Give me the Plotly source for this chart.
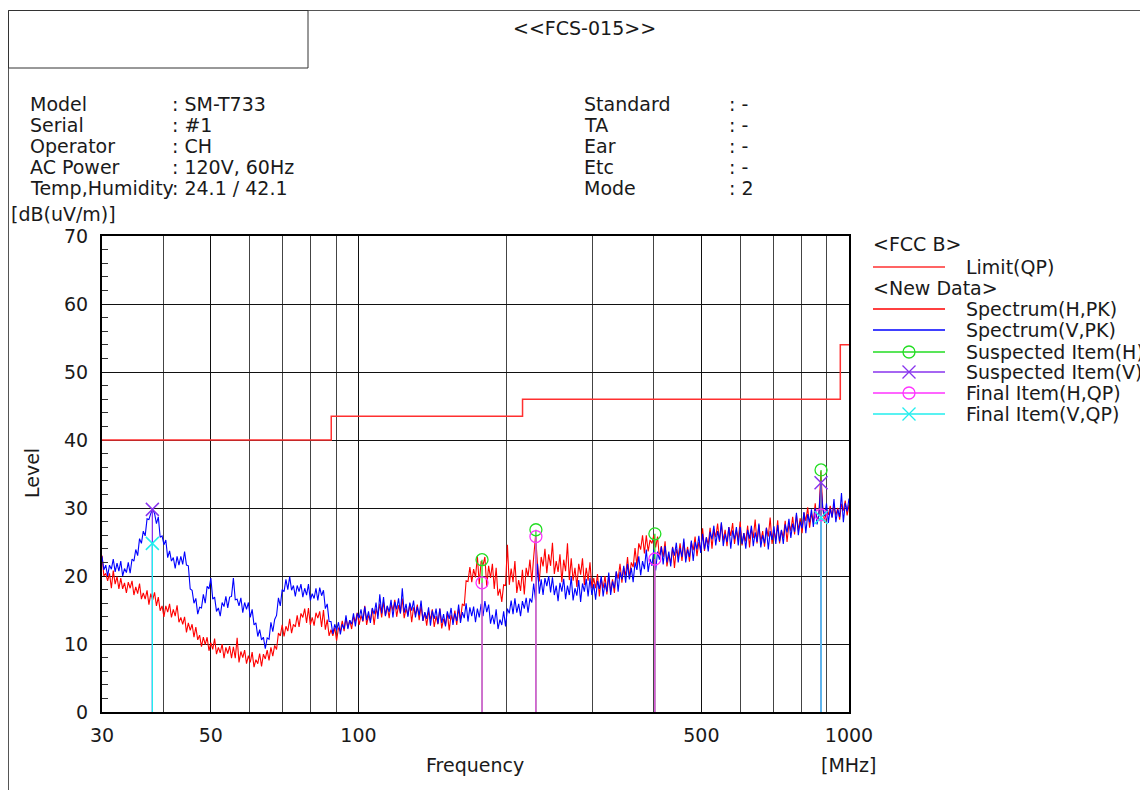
import numpy as np
import plotly.graph_objects as go

# ---------------- data ----------------
spec_v = [
    22.9, 20.9, 21.6, 20.0, 21.6, 21.0, 22.5, 20.6, 21.9, 20.7, 22.2, 20.0, 21.1, 20.5, 22.0, 20.4, 22.5, 22.2, 23.9, 23.0,
    25.5, 24.8, 26.6, 25.9, 28.4, 28.3, 29.2, 29.8, 29.2, 27.7, 28.7, 25.7, 25.9, 24.6, 25.3, 22.7, 23.7, 22.2, 22.7, 21.1,
    22.9, 21.6, 22.9, 21.7, 23.6, 21.6, 21.5, 18.1, 17.9, 16.0, 16.7, 14.4, 15.4, 15.3, 17.3, 16.0, 18.5, 18.1, 19.7, 16.6,
    16.9, 14.8, 15.3, 14.1, 16.1, 15.5, 17.0, 15.3, 16.9, 17.0, 19.7, 16.5, 16.6, 15.6, 16.8, 14.6, 16.1, 15.1, 16.1, 13.9,
    15.1, 12.8, 13.1, 11.1, 12.1, 10.6, 11.0, 9.3, 10.9, 10.7, 13.2, 11.8, 13.6, 14.2, 16.8, 15.6, 18.0, 17.7, 19.5, 18.0,
    19.9, 17.9, 18.6, 17.0, 18.6, 17.7, 18.8, 16.9, 18.2, 17.2, 18.8, 16.4, 17.4, 16.7, 18.2, 16.4, 18.3, 17.1, 17.9, 15.2,
    15.9, 13.3, 13.3, 11.5, 12.9, 12.0, 13.2, 11.4, 12.9, 12.2, 14.2, 12.2, 13.5, 12.9, 14.5, 12.6, 14.5, 13.8, 15.1, 13.4,
    15.5, 13.5, 14.8, 13.1, 15.3, 14.4, 16.1, 13.7, 17.3, 14.5, 16.9, 14.1, 15.6, 14.7, 16.5, 13.9, 16.2, 15.1, 16.7, 14.5,
    18.2, 14.6, 15.9, 14.0, 16.1, 14.9, 16.4, 13.9, 15.5, 14.2, 16.4, 13.4, 14.7, 13.7, 15.4, 12.7, 14.9, 13.7, 15.2, 13.0,
    15.2, 13.1, 14.4, 12.6, 14.8, 13.7, 15.3, 12.8, 14.5, 13.4, 15.8, 13.1, 14.7, 13.8, 16.0, 13.3, 15.4, 14.1, 15.5, 13.2,
    15.2, 13.9, 15.9, 14.1, 16.3, 14.7, 15.8, 13.0, 14.3, 12.9, 15.1, 12.2, 13.6, 12.8, 14.8, 12.6, 15.2, 14.5, 16.4, 14.4,
    16.7, 14.6, 15.9, 14.1, 16.3, 15.2, 16.8, 14.6, 16.7, 16.1, 18.9, 16.4, 21.8, 17.4, 19.5, 17.2, 19.7, 18.5, 20.0, 17.6,
    19.8, 17.2, 18.6, 16.3, 19.0, 17.7, 19.6, 16.6, 18.6, 17.2, 19.9, 16.4, 18.2, 17.1, 19.4, 16.2, 18.9, 17.7, 19.6, 17.0,
    19.7, 17.2, 18.8, 16.5, 19.3, 18.1, 20.0, 17.0, 19.0, 17.7, 20.5, 17.2, 19.2, 18.2, 20.7, 17.7, 20.6, 19.5, 21.5, 19.0,
    21.8, 19.5, 21.2, 19.1, 22.0, 20.9, 22.9, 20.1, 22.2, 21.0, 23.9, 20.6, 22.5, 21.5, 23.9, 20.8, 23.6, 22.4, 24.3, 21.7,
    24.4, 22.0, 23.6, 21.4, 24.2, 23.0, 24.9, 22.0, 24.1, 22.8, 25.5, 22.0, 23.9, 22.8, 25.2, 22.2, 25.0, 23.9, 25.9, 23.4,
    26.2, 23.9, 25.7, 23.6, 26.5, 25.4, 27.4, 24.5, 26.6, 25.2, 27.9, 24.4, 26.2, 25.0, 27.2, 24.0, 26.7, 25.4, 27.2, 24.5,
    27.2, 24.7, 26.3, 24.0, 26.8, 25.5, 27.4, 24.4, 26.4, 25.0, 27.7, 24.2, 26.0, 24.8, 27.1, 23.9, 26.6, 25.3, 27.3, 24.7,
    27.5, 25.1, 26.8, 24.7, 27.6, 26.4, 28.4, 25.6, 27.7, 26.5, 29.3, 26.0, 28.0, 27.0, 29.4, 26.3, 29.1, 27.9, 29.8, 27.2,
    30.0, 27.6, 29.3, 33.6, 30.0, 28.8, 30.7, 27.8, 29.9, 28.6, 31.3, 27.9, 29.8, 28.7, 32.2, 27.9, 30.7, 29.5, 31.4,
]

spec_h = [
    23.0, 20.0, 20.4, 19.3, 20.4, 18.2, 20.8, 18.8, 19.9, 18.1, 19.7, 18.1, 19.0, 17.5, 19.1, 18.2, 19.3, 17.2, 18.4, 17.4,
    18.9, 16.6, 17.5, 16.6, 17.9, 15.8, 17.4, 16.5, 17.6, 15.6, 16.9, 14.9, 15.6, 14.0, 15.6, 14.7, 15.9, 13.9, 15.1, 14.1,
    15.7, 13.2, 13.9, 12.9, 14.0, 11.7, 13.1, 12.0, 12.9, 11.0, 12.5, 10.6, 11.3, 9.6, 11.0, 9.9, 11.0, 9.0, 10.2, 9.2,
    10.8, 8.5, 9.5, 8.7, 10.0, 7.9, 9.5, 8.6, 9.7, 7.9, 9.6, 7.9, 10.9, 7.3, 8.9, 8.0, 9.1, 7.1, 8.3, 7.3,
    8.8, 6.6, 7.7, 7.1, 8.6, 6.7, 8.5, 7.8, 9.1, 7.6, 9.5, 8.2, 9.8, 9.2, 11.6, 11.2, 12.8, 11.1, 12.6, 11.9,
    13.7, 11.6, 12.9, 12.5, 14.2, 12.5, 14.5, 13.9, 15.2, 13.1, 15.3, 12.8, 13.9, 12.7, 14.6, 13.8, 14.8, 12.5, 15.0, 12.1,
    13.6, 11.2, 12.1, 11.2, 12.4, 10.5, 12.4, 11.9, 13.4, 11.9, 13.8, 12.4, 13.5, 12.2, 14.0, 13.3, 14.6, 12.8, 14.2, 13.3,
    15.6, 12.8, 14.2, 13.4, 15.2, 12.8, 15.2, 14.2, 15.9, 13.9, 16.2, 14.2, 15.6, 13.8, 16.0, 14.9, 16.5, 14.0, 15.7, 14.5,
    16.7, 13.8, 15.2, 14.2, 15.9, 13.2, 15.4, 14.3, 15.8, 13.5, 15.6, 13.4, 14.6, 12.7, 14.8, 13.6, 15.1, 12.5, 14.1, 12.9,
    15.2, 12.3, 13.7, 12.8, 14.6, 12.0, 14.3, 13.2, 14.9, 12.8, 15.2, 13.6, 15.9, 15.6, 19.3, 19.2, 21.3, 19.1, 21.0, 19.8,
    22.9, 18.8, 22.2, 21.6, 22.8, 18.4, 21.5, 19.7, 21.8, 18.1, 21.2, 17.1, 18.1, 16.2, 18.7, 18.6, 24.6, 18.7, 21.1, 19.1,
    22.2, 17.5, 19.4, 17.8, 20.9, 17.3, 21.2, 19.9, 22.4, 19.2, 22.8, 25.9, 21.9, 19.2, 22.8, 21.4, 24.0, 20.4, 23.2, 21.5,
    24.9, 20.3, 22.2, 20.6, 23.2, 19.1, 22.4, 20.7, 24.8, 19.4, 22.6, 19.3, 21.2, 18.4, 21.8, 20.2, 22.6, 18.7, 21.2, 19.3,
    22.0, 18.2, 19.7, 18.2, 20.3, 17.0, 19.6, 18.2, 20.0, 17.3, 20.0, 17.7, 19.5, 17.5, 20.6, 19.6, 21.8, 19.0, 21.2, 20.1,
    22.8, 19.7, 22.0, 21.3, 24.1, 21.5, 24.8, 23.9, 26.0, 23.3, 26.0, 23.6, 25.3, 24.8, 26.0, 24.2, 25.8, 22.6, 24.4, 22.8,
    25.1, 21.4, 23.1, 21.9, 24.3, 21.2, 24.0, 22.8, 24.8, 22.2, 25.0, 22.6, 24.3, 22.1, 25.0, 23.8, 25.8, 22.9, 25.0, 23.7,
    27.0, 23.7, 25.7, 24.6, 27.1, 24.0, 26.9, 25.7, 27.7, 25.0, 27.7, 25.2, 26.8, 24.4, 27.2, 25.9, 27.8, 24.7, 26.7, 25.3,
    28.0, 24.5, 26.3, 25.1, 27.4, 24.2, 26.9, 25.6, 28.3, 24.8, 27.5, 25.0, 26.6, 24.3, 27.1, 25.8, 28.6, 24.7, 26.7, 25.3,
    28.2, 24.8, 26.7, 25.6, 28.1, 25.0, 27.8, 26.6, 28.7, 26.1, 29.0, 26.7, 28.5, 26.3, 29.3, 28.1, 30.1, 27.1, 29.2, 27.9,
    30.7, 27.8, 29.1, 35.4, 30.1, 27.8, 29.8, 29.0, 30.3, 28.6, 30.4, 28.9, 30.0, 28.3, 30.6, 29.6, 31.1, 28.9, 30.5,
]

# sweep grids (30 MHz .. 1 GHz, log spaced)
freq_v = np.logspace(np.log10(30), 3, len(spec_v))
freq_h = np.logspace(np.log10(30), 3, len(spec_h))

limit_freq = [30, 88, 216, 960, 1000]
limit_level = [40, 43.5, 46, 54, 54]

susp_h_freq = [178.6, 230.0, 402.0, 877.0]
susp_h_level = [22.4, 26.8, 26.2, 35.6]
susp_v_freq = [38.0, 877.0]
susp_v_level = [29.8, 33.7]
final_h_freq = [178.6, 230.0, 402.0, 877.0]
final_h_level = [19.0, 25.8, 22.5, 29.0]
final_v_freq = [38.0, 877.0]
final_v_level = [24.8, 28.6]

x_ticks = [30, 50, 100, 500, 1000]
x_minor = [40, 60, 70, 80, 90, 200, 300, 400, 600, 700, 800, 900]

legend_labels = ["Limit(QP)", "Spectrum(H,PK)", "Spectrum(V,PK)", "Suspected Item(H)",
                 "Suspected Item(V)", "Final Item(H,QP)", "Final Item(V,QP)"]

info_left_keys = ["Model", "Serial", "Operator", "AC Power", "Temp,Humidity"]
info_left_vals = [": SM-T733", ": #1", ": CH", ": 120V, 60Hz", ": 24.1 / 42.1"]
info_right_keys = ["Standard", "TA", "Ear", "Etc", "Mode"]
info_right_vals = [": -", ": -", ": -", ": -", ": 2"]

# ---------------- styles ----------------
W, H = 1148, 790
OFF = 8  # page margin of the browser
FONT = "DejaVu Sans"
FS = 19
TXT = "#1a1a1a"
C_LIMIT = "#ff3030"
C_H = "#ff0000"
C_V = "#0000ff"
C_SH = "#22dd22"
C_SV = "#8833ee"
C_FH = "#ff33ff"
C_FV = "#22eeee"


def px(x):
    return (x - OFF) / W


def py(y):
    return 1 - (y - OFF) / H


def stems(freqs, levels):
    xs, ys = [], []
    for f, v in zip(freqs, levels):
        xs += [f, f, None]
        ys += [0, v, None]
    return xs, ys


fig = go.Figure()

fig.add_trace(go.Scatter(x=limit_freq, y=limit_level, mode="lines", line_shape="hv",
                         line=dict(color=C_LIMIT, width=1.5), hoverinfo="skip"))
fig.add_trace(go.Scatter(x=freq_h, y=spec_h, mode="lines",
                         line=dict(color=C_H, width=1.1), hoverinfo="skip"))
fig.add_trace(go.Scatter(x=freq_v, y=spec_v, mode="lines",
                         line=dict(color=C_V, width=1.1), hoverinfo="skip"))

for fr, lv, col in [(susp_h_freq, susp_h_level, C_SH), (susp_v_freq, susp_v_level, C_SV),
                    (final_h_freq, final_h_level, C_FH), (final_v_freq, final_v_level, C_FV)]:
    sx, sy = stems(fr, lv)
    fig.add_trace(go.Scatter(x=sx, y=sy, mode="lines", line=dict(color=col, width=1.3),
                             hoverinfo="skip"))

fig.add_trace(go.Scatter(x=susp_h_freq, y=susp_h_level, mode="markers",
                         marker=dict(symbol="circle-open", size=12, color=C_SH, line=dict(width=1.3))))
fig.add_trace(go.Scatter(x=susp_v_freq, y=susp_v_level, mode="markers",
                         marker=dict(symbol="x-thin-open", size=13, color=C_SV, line=dict(width=1.5, color=C_SV))))
fig.add_trace(go.Scatter(x=final_h_freq, y=final_h_level, mode="markers",
                         marker=dict(symbol="circle-open", size=12, color=C_FH, line=dict(width=1.3))))
fig.add_trace(go.Scatter(x=final_v_freq, y=final_v_level, mode="markers",
                         marker=dict(symbol="x-thin-open", size=13, color=C_FV, line=dict(width=1.5, color=C_FV))))

# ---------------- legend (drawn on an auxiliary axis) ----------------
leg_rows = [267, 309, 330, 352, 372, 393, 414]
leg_colors = [C_LIMIT, C_H, C_V, C_SH, C_SV, C_FH, C_FV]
leg_symbols = [None, None, None, "circle-open", "x-thin-open", "circle-open", "x-thin-open"]
for row, col, sym in zip(leg_rows, leg_colors, leg_symbols):
    fig.add_trace(go.Scatter(x=[0, 1], y=[row, row], mode="lines", xaxis="x2", yaxis="y2",
                             line=dict(color=col, width=1.3), hoverinfo="skip"))
    if sym:
        fig.add_trace(go.Scatter(x=[0.5], y=[row], mode="markers", xaxis="x2", yaxis="y2",
                                 marker=dict(symbol=sym, size=12 if "circle" in sym else 13,
                                             color=col, line=dict(width=1.3, color=col)),
                                 hoverinfo="skip"))

ann = []


def txt(x, y, s, xanchor="left", size=FS, angle=0):
    ann.append(dict(x=px(x), y=py(y), xref="paper", yref="paper", text=s, showarrow=False,
                    xanchor=xanchor, yanchor="middle", textangle=angle,
                    font=dict(family=FONT, size=size, color=TXT)))


txt(584, 28, "&lt;&lt;FCS-015&gt;&gt;", "center")
for k, (a, b) in enumerate(zip(info_left_keys, info_left_vals)):
    txt(28, 104 + 21 * k, a)
    txt(170, 104 + 21 * k, b)
for k, (a, b) in enumerate(zip(info_right_keys, info_right_vals)):
    txt(582, 104 + 21 * k, a)
    txt(727, 104 + 21 * k, b)
txt(9, 214, "[dB(uV/m)]")
txt(32, 473, "Level", "center", angle=-90)
txt(475, 765, "Frequency", "center")
txt(848, 765, "[MHz]", "center")
txt(871, 244, "&lt;FCC B&gt;")
txt(871, 288, "&lt;New Data&gt;")
for row, lab in zip(leg_rows, legend_labels):
    txt(964, row, lab)

frame = "#555555"
shapes = [
    dict(type="line", xref="paper", yref="paper", x0=px(8.5), x1=1, y0=py(10.5), y1=py(10.5),
         line=dict(color=frame, width=1)),
    dict(type="line", xref="paper", yref="paper", x0=px(8.5), x1=px(8.5), y0=py(10.5), y1=0,
         line=dict(color=frame, width=1)),
    dict(type="rect", xref="paper", yref="paper", x0=px(8.5), x1=px(308), y0=py(68), y1=py(10.5),
         line=dict(color="#333333", width=1)),
]

fig.update_layout(
    width=W, height=H,
    margin=dict(l=0, r=0, t=0, b=0, pad=0),
    paper_bgcolor="white", plot_bgcolor="white",
    showlegend=False, hovermode=False,
    font=dict(family=FONT, size=FS, color=TXT),
    annotations=ann, shapes=shapes,
    xaxis=dict(type="log", range=[np.log10(30), 3], domain=[px(102), px(849)],
               tickmode="array", tickvals=x_ticks, ticktext=[str(t) for t in x_ticks],
               showgrid=True, gridcolor="#111111", gridwidth=1,
               minor=dict(tickmode="array", tickvals=x_minor, showgrid=True,
                          gridcolor="#444444", gridwidth=1, ticks=""),
               showline=True, linecolor="black", linewidth=2, mirror=True,
               ticks="", ticklabelstandoff=5, automargin=False, zeroline=False,
               tickfont=dict(family=FONT, size=FS, color=TXT)),
    yaxis=dict(range=[0, 70], domain=[py(712), py(236)], dtick=10, tick0=0,
               showgrid=True, gridcolor="#111111", gridwidth=1,
               minor=dict(dtick=2, ticks="inside", ticklen=6, tickcolor="#333333",
                          showgrid=False),
               showline=True, linecolor="black", linewidth=2, mirror=True,
               ticks="", ticklabelstandoff=8, automargin=False, zeroline=False,
               tickfont=dict(family=FONT, size=FS, color=TXT)),
    xaxis2=dict(domain=[px(873), px(945)], range=[0, 1], anchor="y2", visible=False,
                fixedrange=True),
    yaxis2=dict(domain=[py(430), py(236)], range=[430, 236], anchor="x2", visible=False,
                fixedrange=True),
)

fig.write_html("out.html", config=dict(displayModeBar=False))
